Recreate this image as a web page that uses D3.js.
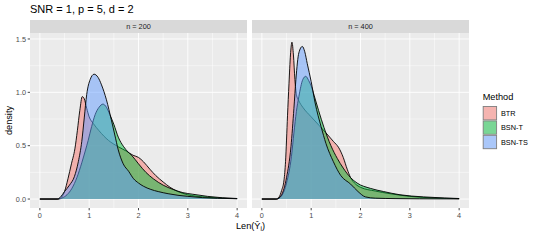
<!DOCTYPE html>
<meta charset="utf-8">
<style>
body {
  margin: 0;
  background: white;
  font-family: "Liberation Sans", Arial, Helvetica, sans-serif;
}
text { fill: #4D4D4D; }
</style>
<body>
<script src="https://cdn.jsdelivr.net/npm/d3@7"></script>
<script>

var width = 540,
    height = 240;

// chart values
var methods = ["BTR", "BSN-T", "BSN-TS"];
var colors = ["#F8766D", "#00BA38", "#619CFF"];
var panelLabels = ["n = 200", "n = 400"];
var xTicks = [0, 1, 2, 3, 4];
var xMinor = [0.5, 1.5, 2.5, 3.5];
var yTicks = [0, 0.5, 1.0, 1.5];
var yMinor = [0.25, 0.75, 1.25];

// density estimates, [x, density]
var btr200 = [[0,0],[0.35,0],[0.42,0.01],[0.5,0.07],[0.57,0.19],[0.64,0.33],[0.71,0.47],[0.76,0.64],[0.81,0.83],[0.86,0.96],[0.9,0.94],[0.95,0.85],[1.0,0.77],[1.08,0.71],[1.2,0.64],[1.39,0.55],[1.59,0.49],[1.75,0.45],[1.89,0.41],[2.0,0.39],[2.1,0.35],[2.23,0.28],[2.35,0.22],[2.5,0.16],[2.64,0.11],[2.8,0.07],[3.0,0.04],[3.3,0.02],[3.6,0.01],[4.0,0.004]];
var bsnt200 = [[0,0],[0.38,0],[0.45,0.01],[0.55,0.04],[0.65,0.1],[0.75,0.2],[0.85,0.34],[0.92,0.45],[0.98,0.55],[1.05,0.68],[1.12,0.79],[1.2,0.86],[1.28,0.89],[1.35,0.86],[1.42,0.79],[1.5,0.7],[1.59,0.58],[1.7,0.49],[1.79,0.44],[1.86,0.41],[2.0,0.33],[2.15,0.25],[2.3,0.19],[2.5,0.13],[2.7,0.09],[2.9,0.06],[3.1,0.045],[3.4,0.025],[3.7,0.012],[4.0,0.005]];
var bsnts200 = [[0,0],[0.36,0],[0.42,0.02],[0.5,0.07],[0.6,0.13],[0.7,0.21],[0.78,0.35],[0.85,0.54],[0.9,0.76],[0.95,0.98],[1.02,1.12],[1.1,1.17],[1.18,1.14],[1.25,1.07],[1.35,0.93],[1.45,0.74],[1.52,0.6],[1.59,0.46],[1.69,0.33],[1.8,0.26],[1.9,0.19],[2.0,0.15],[2.1,0.12],[2.25,0.09],[2.4,0.07],[2.6,0.05],[2.8,0.035],[3.0,0.025],[3.3,0.013],[3.6,0.007],[4.0,0.003]];

var btr400 = [[0,0],[0.28,0],[0.35,0.02],[0.4,0.08],[0.45,0.18],[0.48,0.35],[0.52,0.78],[0.55,1.08],[0.58,1.35],[0.61,1.47],[0.64,1.35],[0.67,1.12],[0.7,0.98],[0.75,0.92],[0.83,0.86],[1.0,0.77],[1.16,0.69],[1.3,0.62],[1.45,0.54],[1.56,0.48],[1.65,0.39],[1.73,0.28],[1.8,0.2],[1.9,0.14],[2.0,0.11],[2.3,0.075],[2.6,0.05],[3.0,0.025],[3.5,0.01],[4.0,0.004]];
var bsnt400 = [[0,0],[0.3,0],[0.4,0.03],[0.5,0.15],[0.6,0.4],[0.65,0.62],[0.7,0.82],[0.75,0.96],[0.83,1.12],[0.89,1.15],[0.95,1.11],[1.0,1.06],[1.06,0.97],[1.15,0.83],[1.26,0.67],[1.4,0.5],[1.53,0.38],[1.65,0.29],[1.8,0.2],[1.93,0.15],[2.2,0.1],[2.47,0.07],[2.8,0.04],[3.28,0.02],[3.7,0.01],[4.0,0.005]];
var bsnts400 = [[0,0],[0.3,0],[0.4,0.04],[0.5,0.2],[0.59,0.49],[0.65,0.85],[0.69,1.12],[0.75,1.37],[0.82,1.43],[0.87,1.38],[0.92,1.27],[1.0,1.1],[1.08,0.9],[1.2,0.68],[1.3,0.52],[1.45,0.35],[1.6,0.22],[1.8,0.14],[1.95,0.07],[2.1,0.02],[2.3,0.008],[2.7,0.004],[3.2,0.002],[4.0,0.001]];

var panelData = [[btr200, bsnt200, bsnts200], [btr400, bsnt400, bsnts400]];

// layout
var panelX = [30, 252],
    panelW = 217,
    stripTop = 20,
    panelTop = 33,
    panelBottom = 208;

var svg = d3.select("body").append("svg")
    .attr("width", width)
    .attr("height", height);

var y = d3.scaleLinear()
    .domain([-0.084, 1.556])
    .range([panelBottom, panelTop]);

var area = d3.area()
    .curve(d3.curveMonotoneX);
var line = d3.line()
    .curve(d3.curveMonotoneX);

panelData.forEach(function(series, p) {
  var x = d3.scaleLinear()
      .domain([-0.2, 4.2])
      .range([panelX[p], panelX[p] + panelW]);

  var g = svg.append("g");

  // strip
  g.append("rect")
    .attr("x", panelX[p]).attr("y", stripTop)
    .attr("width", panelW).attr("height", panelTop - stripTop)
    .attr("fill", "#D9D9D9");
  g.append("text")
    .attr("x", panelX[p] + panelW / 2)
    .attr("y", (stripTop + panelTop) / 2 + 2.5)
    .attr("text-anchor", "middle")
    .style("font-size", "7.3px")
    .style("fill", "#1A1A1A")
    .text(panelLabels[p]);

  // panel background + grid
  g.append("rect")
    .attr("x", panelX[p]).attr("y", panelTop)
    .attr("width", panelW).attr("height", panelBottom - panelTop)
    .attr("fill", "#EBEBEB");

  g.selectAll(".xminor").data(xMinor).enter().append("line")
    .attr("x1", x).attr("x2", x)
    .attr("y1", panelTop).attr("y2", panelBottom)
    .attr("stroke", "white").attr("stroke-width", 0.45);
  g.selectAll(".yminor").data(yMinor).enter().append("line")
    .attr("x1", panelX[p]).attr("x2", panelX[p] + panelW)
    .attr("y1", y).attr("y2", y)
    .attr("stroke", "white").attr("stroke-width", 0.45);
  g.selectAll(".xmajor").data(xTicks).enter().append("line")
    .attr("x1", x).attr("x2", x)
    .attr("y1", panelTop).attr("y2", panelBottom)
    .attr("stroke", "white").attr("stroke-width", 0.9);
  g.selectAll(".ymajor").data(yTicks).enter().append("line")
    .attr("x1", panelX[p]).attr("x2", panelX[p] + panelW)
    .attr("y1", y).attr("y2", y)
    .attr("stroke", "white").attr("stroke-width", 0.9);

  area.x(function(d) { return x(d[0]); })
    .y0(y(0))
    .y1(function(d) { return y(d[1]); });
  line.x(function(d) { return x(d[0]); })
    .y(function(d) { return y(d[1]); });

  series.forEach(function(s, i) {
    g.append("path")
      .attr("d", area(s))
      .attr("fill", colors[i])
      .attr("fill-opacity", 0.5);
    g.append("path")
      .attr("d", line(s))
      .attr("fill", "none")
      .attr("stroke", "black")
      .attr("stroke-width", 0.9);
  });

  // x axis
  g.selectAll(".xtick").data(xTicks).enter().append("line")
    .attr("x1", x).attr("x2", x)
    .attr("y1", panelBottom).attr("y2", panelBottom + 2.3)
    .attr("stroke", "#333333").attr("stroke-width", 0.9);
  g.selectAll(".xlabel").data(xTicks).enter().append("text")
    .attr("x", x)
    .attr("y", panelBottom + 9.5)
    .attr("text-anchor", "middle")
    .style("font-size", "7.3px")
    .text(function(d) { return d; });
});

// y axis (left panel only)
svg.selectAll(".ytick").data(yTicks).enter().append("line")
  .attr("x1", panelX[0] - 2.3).attr("x2", panelX[0])
  .attr("y1", y).attr("y2", y)
  .attr("stroke", "#333333").attr("stroke-width", 0.9);
svg.selectAll(".ylabel").data(yTicks).enter().append("text")
  .attr("x", panelX[0] - 4)
  .attr("y", function(d) { return y(d) + 2.6; })
  .attr("text-anchor", "end")
  .style("font-size", "7.3px")
  .text(function(d) { return d3.format(".1f")(d); });

// titles
svg.append("text")
  .attr("x", 30).attr("y", 13)
  .style("font-size", "11px")
  .style("fill", "black")
  .text("SNR = 1, p = 5, d = 2");

svg.append("text")
  .attr("transform", "translate(12," + (panelTop + panelBottom) / 2 + ")rotate(-90)")
  .attr("text-anchor", "middle")
  .style("font-size", "9.2px")
  .style("fill", "black")
  .text("density");

var xt = svg.append("text")
  .attr("x", 250.5).attr("y", 229)
  .attr("text-anchor", "middle")
  .style("font-size", "9.2px")
  .style("fill", "black");
xt.append("tspan").text("Len(Ŷ");
xt.append("tspan").attr("dy", 2).style("font-size", "6.5px").text("i");
xt.append("tspan").attr("dy", -2).text(")");

// legend
var legend = svg.append("g");
legend.append("text")
  .attr("x", 482.7).attr("y", 100)
  .style("font-size", "9.2px")
  .style("fill", "black")
  .text("Method");

var key = 14.4;
methods.forEach(function(m, i) {
  var ky = 106 + i * key;
  legend.append("rect")
    .attr("x", 482.7).attr("y", ky)
    .attr("width", key).attr("height", key)
    .attr("fill", "#F2F2F2");
  legend.append("rect")
    .attr("x", 483.2).attr("y", ky + 0.5)
    .attr("width", key - 1).attr("height", key - 1)
    .attr("fill", colors[i])
    .attr("fill-opacity", 0.5)
    .attr("stroke", "#7f7f7f")
    .attr("stroke-width", 0.9);
  legend.append("text")
    .attr("x", 501)
    .attr("y", ky + key / 2 + 2.6)
    .style("font-size", "7.3px")
    .style("fill", "black")
    .text(m);
});

</script>
